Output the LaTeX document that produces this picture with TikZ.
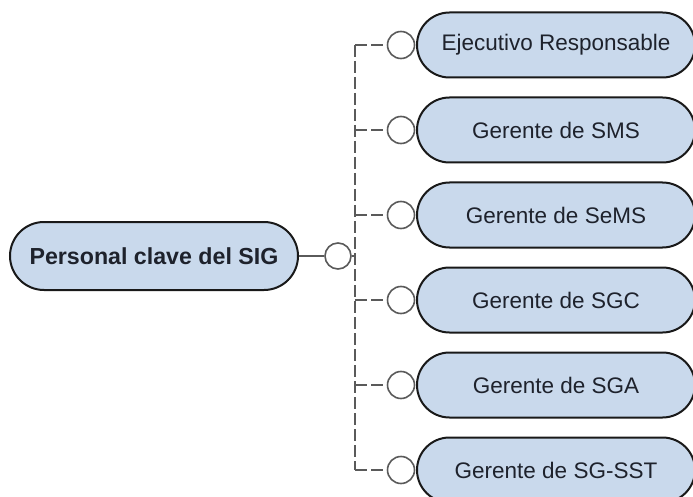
\documentclass[tikz,border=0pt]{standalone}
\usepackage{fontspec}
\setmainfont{Liberation Sans}
\usetikzlibrary{shapes.misc}
\definecolor{pillfill}{RGB}{201,217,236}
\definecolor{pilltext}{RGB}{30,34,44}
\definecolor{conn}{RGB}{90,90,90}
\tikzset{
  pill/.style={rounded rectangle, draw=black!90, line width=2pt, fill=pillfill,
    text=pilltext, inner sep=0pt, font=\fontsize{22.5}{27}\selectfont},
  childpill/.style={pill, minimum width=278pt, minimum height=65pt},
  rootpill/.style={pill, minimum width=288pt, minimum height=68pt, font=\fontsize{23.2}{28}\selectfont\bfseries},
  joint/.style={circle, draw=conn, line width=1.6pt, fill=white, minimum size=27pt, inner sep=0pt},
  branch/.style={draw=conn, line width=2.4pt, dash pattern=on 12pt off 4pt},
  solidconn/.style={draw=conn, line width=2pt}
}
\begin{document}
\begin{tikzpicture}[x=1pt,y=-1pt]
\clip (0,0) rectangle (693,497);
\fill[white] (0,0) rectangle (693,497);
% root
\node[rootpill] (root) at (154,256) {Personal clave del SIG};
\node[joint, minimum size=26pt] (rc) at (338,256) {};
% children
\node[childpill] (k1) at (556,45)  {Ejecutivo Responsable};
\node[childpill] (k2) at (556,130) {Gerente de SMS};
\node[childpill] (k3) at (556,215) {Gerente de SeMS};
\node[childpill] (k4) at (556,300) {Gerente de SGC};
\node[childpill] (k5) at (556,385) {Gerente de SGA};
\node[childpill] (k6) at (556,470) {Gerente de SG-SST};
\foreach \i/\y in {1/45,2/130,3/215,4/300,5/385,6/470}{
  \node[joint] (c\i) at (401,\y) {};
  \coordinate (b\i) at (355,\y);
}
\coordinate (j) at (355,256);
% connectors
\draw[solidconn] (root.east) -- (rc.west);
\draw[solidconn] (rc.east) -- (j);
\draw[branch] (b1) -- (b6);
\foreach \i in {1,...,6}{
  \draw[branch] (b\i) -- (c\i.west);
}
\end{tikzpicture}
\end{document}
